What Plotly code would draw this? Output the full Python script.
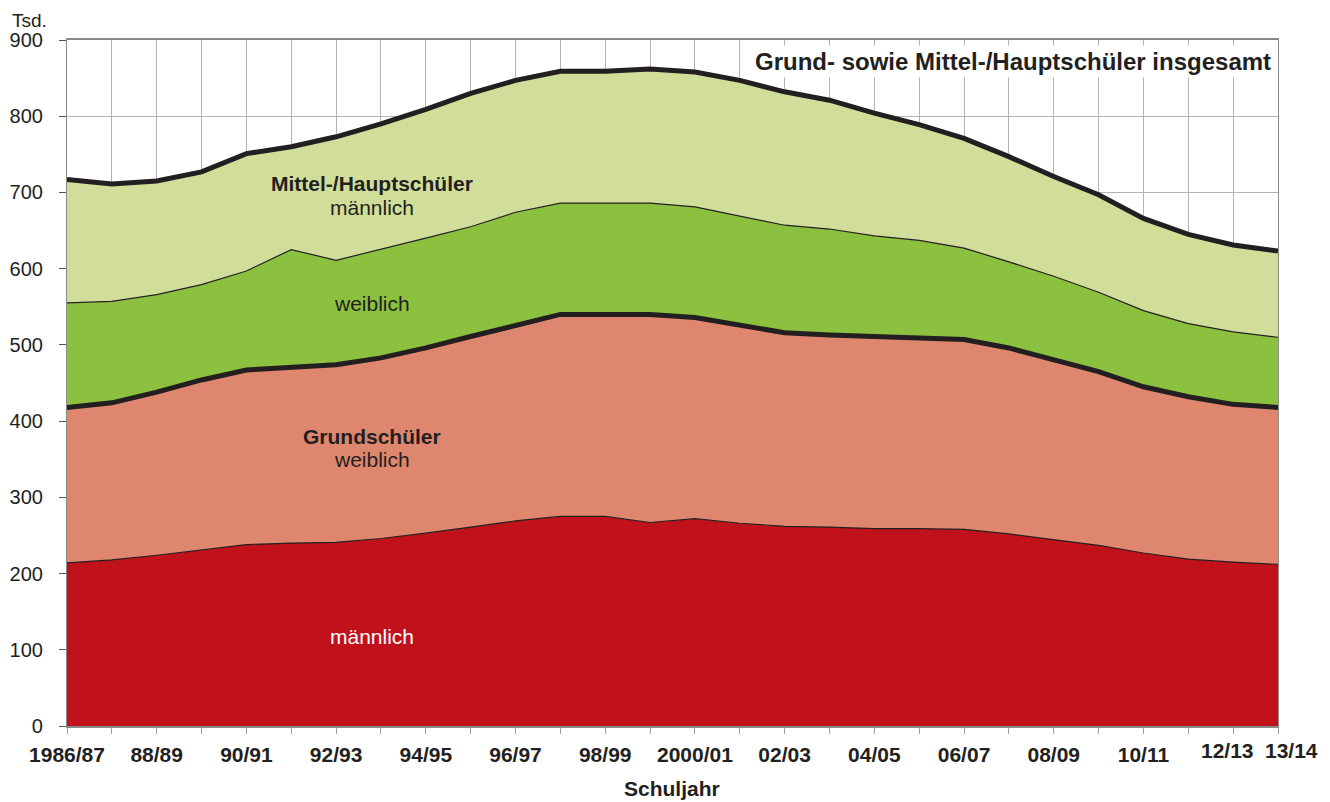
import plotly.graph_objects as go

years = ["1986/87", "87/88", "88/89", "89/90", "90/91", "91/92", "92/93", "93/94",
         "94/95", "95/96", "96/97", "97/98", "98/99", "99/00", "2000/01", "01/02",
         "02/03", "03/04", "04/05", "05/06", "06/07", "07/08", "08/09", "09/10",
         "10/11", "11/12", "12/13", "13/14"]
shown_labels = ["1986/87", "88/89", "90/91", "92/93", "94/95", "96/97", "98/99",
                "2000/01", "02/03", "04/05", "06/07", "08/09", "10/11"]
end_labels = ["12/13", "13/14"]

# Thousands of pupils (Tsd.)
grund_maennlich = [214, 218, 224, 231, 238, 240, 241, 246, 253, 261, 269, 275, 275, 267,
                   272, 266, 262, 261, 259, 259, 258, 252, 245, 237, 227, 219, 215, 212]
grund_weiblich = [204, 206, 214, 223, 229, 230, 233, 237, 243, 250, 257, 265, 265, 273,
                  264, 260, 254, 252, 252, 251, 249, 244, 235, 228, 218, 213, 207, 206]
mh_weiblich = [137, 133, 128, 125, 130, 155, 137, 142, 144, 144, 148, 146, 146, 146,
               145, 143, 141, 139, 132, 127, 120, 113, 110, 104, 100, 96, 95, 92]
mh_maennlich = [162, 154, 149, 148, 154, 135, 162, 165, 169, 175, 173, 173, 173, 176,
                177, 178, 175, 169, 161, 152, 144, 138, 131, 128, 121, 117, 114, 113]

y_ticks = [0, 100, 200, 300, 400, 500, 600, 700, 800, 900]

x_idx = list(range(len(years)))
ticktext = [y if y in shown_labels else "" for y in years]

FONT = "Liberation Sans, Arial, Helvetica, sans-serif"
DARK = "#231f20"

series = [
    ("Grundschüler männlich", grund_maennlich, "#c1121c", 1.2),
    ("Grundschüler weiblich", grund_weiblich, "#df876e", 5),
    ("Mittel-/Hauptschüler weiblich", mh_weiblich, "#8cc13f", 1.2),
    ("Mittel-/Hauptschüler männlich", mh_maennlich, "#d1de9a", 5),
]

fig = go.Figure()
for name, vals, color, lw in series:
    fig.add_trace(go.Scatter(
        x=x_idx, y=vals, name=name, mode="lines", stackgroup="one",
        fillcolor=color, line=dict(color=DARK, width=lw, shape="linear"),
        hoverinfo="x+y+name",
    ))

# page offset (browser body margin) and target plot area in page pixels
OFF = 8
W, H = 1330, 802
L, R, T, B = 67 - OFF, 1278 - OFF, 40 - OFF, 726 - OFF

def px(xp):
    return (xp - OFF - L) / (R - L)

def py(yp):
    return (B - (yp - OFF)) / (B - T)

fig.update_layout(
    width=W, height=H,
    margin=dict(l=L, r=W - R, t=T, b=H - B, autoexpand=False),
    paper_bgcolor="white", plot_bgcolor="white",
    showlegend=False,
    font=dict(family=FONT, color=DARK, size=21),
    xaxis=dict(
        range=[0, len(years) - 1], tickmode="array", tickvals=x_idx, ticktext=ticktext,
        tickangle=0, automargin=False,
        showgrid=True, gridcolor="#b4b4b4", gridwidth=1,
        ticks="outside", ticklen=6, tickcolor="#a0a0a0",
        tickfont=dict(family=FONT, size=21, color=DARK, weight="bold"),
        showline=True, linecolor="#8a8a8a", linewidth=1.5, mirror=True,
        zeroline=False, ticklabelstandoff=3,
    ),
    yaxis=dict(
        range=[0, 900], tickmode="array", tickvals=y_ticks, automargin=False,
        showgrid=True, gridcolor="#b4b4b4", gridwidth=1,
        ticks="outside", ticklen=7, tickcolor="#555555",
        tickfont=dict(family=FONT, size=20, color=DARK),
        showline=True, linecolor="#8a8a8a", linewidth=1.2, mirror=True,
        zeroline=False, ticklabelstandoff=12,
    ),
)

def ann(text, x, y, size=21, bold=False, color=DARK, xanchor="center", xref="x", yref="y",
        bg=None, pad=2, yanchor="middle"):
    fig.add_annotation(
        text=f"<b>{text}</b>" if bold else text, x=x, y=y, xref=xref, yref=yref,
        showarrow=False, xanchor=xanchor, yanchor=yanchor,
        font=dict(family=FONT, size=size, color=color),
        bgcolor=bg, borderpad=pad,
    )

lab_x = (372 - 67) / ((1278 - 67) / (len(years) - 1))
ann("Mittel-/Hauptschüler", lab_x, 712, bold=True)
ann("männlich", lab_x, 680)
ann("weiblich", lab_x, 554)
ann("Grundschüler", lab_x, 380, bold=True)
ann("weiblich", lab_x, 349)
ann("männlich", lab_x, 117, color="white")

# last two x labels sit slightly apart (as in the original)
ann(end_labels[0], px(1227), py(751), bold=True, xref="paper", yref="paper")
ann(end_labels[1], px(1291), py(751), bold=True, xref="paper", yref="paper")

ann("Grund- sowie Mittel-/Hauptschüler insgesamt", px(1274), py(61), size=24, bold=True,
    xanchor="right", xref="paper", yref="paper", bg="white")
ann("Tsd.", px(11), py(9), size=19, xanchor="left", yanchor="top",
    xref="paper", yref="paper", pad=0)
ann("Schuljahr", px(672), py(788), size=21, bold=True, xref="paper", yref="paper")

fig.write_html("out.html")
